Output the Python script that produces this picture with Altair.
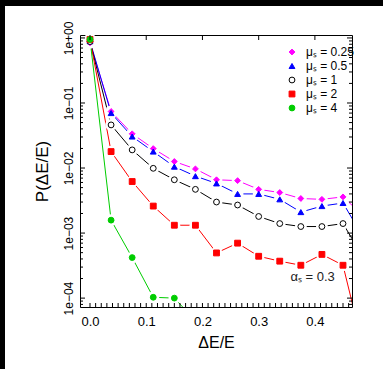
import altair as alt
import pandas as pd
import numpy as np

# ---- data ----
x_vals = [0.0, 0.0375, 0.075, 0.1125, 0.15, 0.1875, 0.225, 0.2625, 0.3, 0.3375, 0.375, 0.4125, 0.45, 0.4875]
mu_025 = [0.84, 0.074, 0.0336, 0.0199, 0.0126, 0.0097, 0.0066, 0.0064, 0.0047, 0.0042, 0.0034, 0.0033, 0.0036, 0.0018]
mu_05 = [0.89, 0.070, 0.0305, 0.0179, 0.0105, 0.0075, 0.0058, 0.0040, 0.0040, 0.0033, 0.0021, 0.0026, 0.0029, 0.00082]
mu_1 = [0.88, 0.046, 0.019, 0.0099, 0.0066, 0.0047, 0.0030, 0.0027, 0.0018, 0.0014, 0.00126, 0.00126, 0.0014, 0.0004]
mu_2 = [0.95, 0.0179, 0.0062, 0.0026, 0.00132, 0.00132, 0.000495, 0.0007, 0.00044, 0.00037, 0.00032, 0.00047, 0.00032, 0.000015]
mu_4 = [0.95, 0.00158, 0.00042, 0.000103, 0.0001, 0.000045]

series_labels = ["μₛ = 0.25", "μₛ = 0.5", "μₛ = 1", "μₛ = 2", "μₛ = 4"]
series_values = [mu_025, mu_05, mu_1, mu_2, mu_4]
stroke_colors = ["#ff00ff", "#0000ff", "#000000", "#ff0000", "#00cd00"]
fill_colors = ["#ff00ff", "#0000ff", "#ffffff", "#ff0000", "#00cd00"]
shapes = ["diamond", "triangle-up", "circle", "square", "circle"]

x_tick_labels = [0.0, 0.1, 0.2, 0.3, 0.4]
y_tick_labels = [1e-4, 1e-3, 1e-2, 1e-1, 1.0]
annotation = {"x": [0.396], "y": [2.1e-4], "label": ["αₛ = 0.3"]}

# ---- build tables ----
rows = []
for lab, vals in zip(series_labels, series_values):
    for xv, yv in zip(x_vals, vals):
        rows.append({"x": xv, "y": yv, "series": lab})
df = pd.DataFrame(rows)

x_minor = pd.DataFrame({"x": np.round(np.arange(0, 0.4651, 0.01), 3)})
x_major = pd.DataFrame({"x": x_tick_labels})
y_major = pd.DataFrame({"y": y_tick_labels})
y_minor = pd.DataFrame({"y": [k * 10.0 ** e for e in range(-5, 1) for k in range(2, 10)
                              if 7.3e-5 <= k * 10.0 ** e <= 1.11]})

W, H = 272, 272
FONT = "Liberation Sans"

xscale = alt.Scale(domain=[-0.0178, 0.466], nice=False, zero=False)
yscale = alt.Scale(type="log", domain=[7.3e-5, 1.11], nice=False)

xaxis = alt.Axis(values=x_tick_labels, format=".1f", tickSize=0, domain=False, grid=False,
                 labelFont=FONT, labelFontSize=13, labelColor="black", labelPadding=8,
                 titleFont=FONT, titleFontSize=16, titleFontWeight="normal", titleColor="black",
                 titlePadding=6)
yaxis = alt.Axis(values=y_tick_labels, tickSize=0, domain=False, grid=False, labelAngle=-90,
                 labelExpr="'1e' + (datum.value >= 1 ? '+' : '\u2212') + '0' + abs(round(log(datum.value)/LN10))",
                 labelFont=FONT, labelFontSize=12, labelColor="black", labelPadding=5,
                 titleFont=FONT, titleFontSize=17, titleFontWeight="normal", titleColor="black",
                 titlePadding=11)

X = alt.X("x:Q", scale=xscale, axis=xaxis, title="ΔE/E")
Y = alt.Y("y:Q", scale=yscale, axis=yaxis, title="P(ΔE/E)")

dom = series_labels
leg = alt.Legend(title=None, orient="none", legendX=206, legendY=11, padding=0,
                 labelFont=FONT, labelFontSize=12, labelColor="black",
                 symbolSize=34, symbolStrokeWidth=1, rowPadding=2, labelOffset=8)

# one line layer per series, coloured directly (no shared colour scale)
line_layers = [
    alt.Chart(df).transform_filter(alt.datum.series == lab)
    .mark_line(clip=True, strokeWidth=1, color=col).encode(x=X, y=Y)
    for lab, col in zip(series_labels, stroke_colors)
]
# white discs under the markers give the broken-line look of the reference
halo = alt.Chart(df).mark_point(clip=True, filled=True, shape="circle", size=140,
                                color="white", opacity=1).encode(x=X, y=Y)
points = alt.Chart(df).mark_point(clip=True, opacity=1, strokeWidth=1, size=34).encode(
    x=X, y=Y,
    shape=alt.Shape("series:N", scale=alt.Scale(domain=dom, range=shapes), legend=leg),
    stroke=alt.Stroke("series:N", scale=alt.Scale(domain=dom, range=stroke_colors), legend=leg),
    fill=alt.Fill("series:N", scale=alt.Scale(domain=dom, range=fill_colors), legend=leg),
)

ann = alt.Chart(pd.DataFrame(annotation)).mark_text(font=FONT, fontSize=13, color="#222222",
                                                    align="center", baseline="middle").encode(
    x=X, y=Y, text="label:N")

# inward ticks
xt_bottom = alt.Chart(x_minor).mark_rule(color="black", strokeWidth=1).encode(
    x=X, y=alt.value(H), y2=alt.value(H - 4))
xt_top = alt.Chart(x_major).mark_rule(color="black", strokeWidth=1).encode(
    x=X, y=alt.value(0), y2=alt.value(5))
yt_l_major = alt.Chart(y_major).mark_rule(color="black", strokeWidth=1).encode(
    y=Y, x=alt.value(0), x2=alt.value(5))
yt_l_minor = alt.Chart(y_minor).mark_rule(color="black", strokeWidth=1).encode(
    y=Y, x=alt.value(0), x2=alt.value(3))
yt_r_major = alt.Chart(y_major).mark_rule(color="black", strokeWidth=1).encode(
    y=Y, x=alt.value(W), x2=alt.value(W - 5))
yt_r_minor = alt.Chart(y_minor).mark_rule(color="black", strokeWidth=1).encode(
    y=Y, x=alt.value(W), x2=alt.value(W - 3))

# dark frame strips of the reference screenshot
frame_df = pd.DataFrame({"k": [0]})
strip_top = alt.Chart(frame_df).mark_rect(color="black", clip=False).encode(
    x=alt.value(-80), x2=alt.value(303), y=alt.value(-35), y2=alt.value(-29))
strip_left = alt.Chart(frame_df).mark_rect(color="black", clip=False).encode(
    x=alt.value(-80), x2=alt.value(-75), y=alt.value(-35), y2=alt.value(334))

chart = alt.layer(
    *line_layers, halo, points, ann,
    xt_bottom, xt_top, yt_l_major, yt_l_minor, yt_r_major, yt_r_minor,
    strip_top, strip_left,
).properties(
    width=W, height=H,
    autosize=alt.AutoSizeParams(type="none"),
    padding={"left": 80, "top": 35, "right": 31, "bottom": 62},
    background="white",
).configure_view(stroke="black", strokeWidth=1)

chart.save("out.html", embed_options={"renderer": "svg", "actions": False})
